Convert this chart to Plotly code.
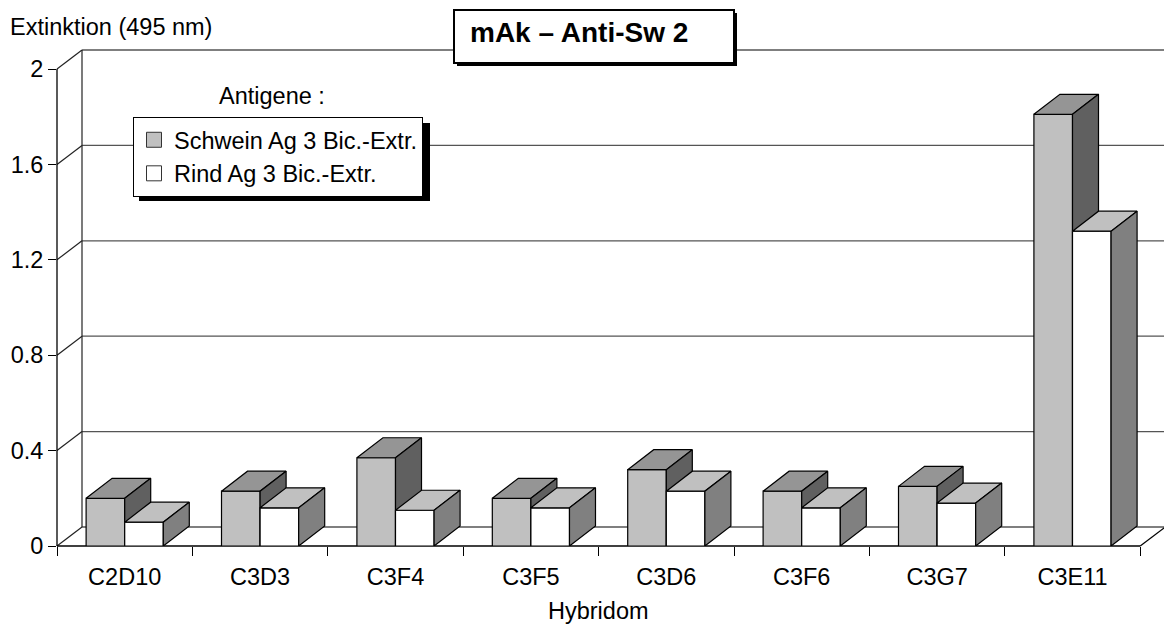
import plotly.graph_objects as go

# ---- data -------------------------------------------------------------
categories = ["C2D10", "C3D3", "C3F4", "C3F5", "C3D6", "C3F6", "C3G7", "C3E11"]
schwein = [0.20, 0.23, 0.37, 0.20, 0.32, 0.23, 0.25, 1.81]
rind = [0.10, 0.16, 0.15, 0.16, 0.23, 0.16, 0.18, 1.32]
series_names = ["Schwein Ag 3 Bic.-Extr.", "Rind Ag 3 Bic.-Extr."]
y_ticks = [0, 0.4, 0.8, 1.2, 1.6, 2]
y_tick_labels = ["0", "0.4", "0.8", "1.2", "1.6", "2"]

# ---- geometry / style -------------------------------------------------
W, H = 1164, 625
M_L, M_R, M_T, M_B = 57, 0, 10, 79
CAT_PX = 135.4          # pixels per category
UNIT_PX = 238.5         # pixels per extinction unit
plot_w = W - M_L - M_R
plot_h = H - M_T - M_B
x_range = [-0.5, -0.5 + plot_w / CAT_PX]
y_range = [0.0, plot_h / UNIT_PX]

BAR_W = 0.285                                   # bar width in category units
BAR_DX, BAR_DY = 26 / CAT_PX, 20 / UNIT_PX      # bar depth (oblique projection)
WALL_DX, WALL_DY = 25 / CAT_PX, 19 / UNIT_PX    # depth of floor / walls
FONT = "Liberation Sans, Arial, Helvetica, sans-serif"
FS = 23.5

face_colors = [
    dict(front="#C0C0C0", top="#959595", side="#606060"),
    dict(front="#FFFFFF", top="#C0C0C0", side="#808080"),
]
legend_colors = ["#C0C0C0", "#FFFFFF"]


def to_paper(x, y):
    """Convert axis units to paper fractions (for decoration shapes)."""
    px = (x - x_range[0]) / (x_range[1] - x_range[0])
    py = (y - y_range[0]) / (y_range[1] - y_range[0])
    return px, py


def px_paper(px, py):
    """Convert canvas pixels to paper fractions (for boxes and labels)."""
    return (px - M_L) / plot_w, (H - M_B - py) / plot_h


def face(xs, ys, color):
    return go.Scatter(
        x=xs + [xs[0]], y=ys + [ys[0]], mode="lines", fill="toself",
        fillcolor=color, line=dict(color="black", width=1.2),
        hoverinfo="skip", showlegend=False,
    )


fig = go.Figure()

# ---- 3D columns: front, top and side faces --------------------------------
for i in range(len(categories)):
    for s, vals in enumerate([schwein, rind]):
        v = vals[i]
        x0 = i - BAR_W + s * BAR_W
        x1 = x0 + BAR_W
        c = face_colors[s]
        fig.add_trace(face([x0, x1, x1, x0], [0, 0, v, v], c["front"]))
        fig.add_trace(face([x0, x1, x1 + BAR_DX, x0 + BAR_DX],
                           [v, v, v + BAR_DY, v + BAR_DY], c["top"]))
        fig.add_trace(face([x1, x1 + BAR_DX, x1 + BAR_DX, x1],
                           [0, BAR_DY, v + BAR_DY, v], c["side"]))

# legend carriers
for name, col in zip(series_names, legend_colors):
    fig.add_trace(go.Scatter(
        x=[None], y=[None], mode="markers", name=name,
        marker=dict(symbol="square", size=15, color=col,
                    line=dict(color="#333333", width=1)),
    ))

# ---- walls, floor and axis lines --------------------------------------
shapes = []


def seg(xa, ya, xb, yb, color="#000000", width=1.2, layer="below"):
    pa = to_paper(xa, ya)
    pb = to_paper(xb, yb)
    shapes.append(dict(type="line", xref="paper", yref="paper",
                       x0=pa[0], y0=pa[1], x1=pb[0], y1=pb[1],
                       line=dict(color=color, width=width), layer=layer))


x_left, x_right = -0.5, len(categories) - 0.5
for v in y_ticks:
    col = "#000000" if v in (0, y_ticks[-1]) else "#555555"
    # back wall gridline
    seg(x_left + WALL_DX, v + WALL_DY, x_right + WALL_DX, v + WALL_DY, col)
    # side wall gridline
    seg(x_left, v, x_left + WALL_DX, v + WALL_DY, "#222222")
# back wall left edge
seg(x_left + WALL_DX, WALL_DY, x_left + WALL_DX, y_ticks[-1] + WALL_DY, "#222222")
# front value axis
seg(x_left, 0, x_left, y_ticks[-1], "#000000", 1.3)
# floor front edge and right edge
seg(x_left, 0, x_right, 0, "#000000", 1.3)
seg(x_right, 0, x_right + WALL_DX, WALL_DY, "#000000", 1.2)


def rect(px0, py0, px1, py1, fill, line_w=0, line_c="black"):
    a = px_paper(px0, py0)
    b = px_paper(px1, py1)
    shapes.append(dict(type="rect", xref="paper", yref="paper",
                       x0=a[0], y0=a[1], x1=b[0], y1=b[1],
                       fillcolor=fill, layer="above",
                       line=dict(width=line_w, color=line_c)))


# title box with shadow
rect(457, 13, 737, 66, "black")
rect(454, 10, 734, 63, "white", 2)
# legend shadow (legend box is drawn on top of it)
rect(139, 123, 430, 201, "black")

fig.update_layout(shapes=shapes)

# ---- annotations -------------------------------------------------------
ann = []
tx, ty = px_paper(468, 33)
ann.append(dict(text="<b>mAk – Anti-Sw 2</b>", x=tx, y=ty, xref="paper", yref="paper",
                xanchor="left", yanchor="middle", showarrow=False,
                font=dict(size=28, family=FONT, color="black")))
ex, ey = px_paper(8, 27)
ann.append(dict(text="Extinktion (495 nm)", x=ex, y=ey, xref="paper", yref="paper",
                xanchor="left", yanchor="middle", showarrow=False,
                font=dict(size=FS, family=FONT, color="black")))
ax_, ay_ = px_paper(272, 96)
ann.append(dict(text="Antigene :", x=ax_, y=ay_, xref="paper", yref="paper",
                xanchor="center", yanchor="middle", showarrow=False,
                font=dict(size=FS, family=FONT, color="black")))
hx, hy = px_paper(0, 611)
ann.append(dict(text="Hybridom", x=(len(categories) - 1) / 2, y=hy, xref="x", yref="paper",
                xanchor="center", yanchor="middle", showarrow=False,
                font=dict(size=FS, family=FONT, color="black")))
fig.update_layout(annotations=ann)

lx, ly = px_paper(133, 117)
fig.update_layout(
    width=W, height=H,
    margin=dict(l=M_L, r=M_R, t=M_T, b=M_B, pad=0),
    paper_bgcolor="white", plot_bgcolor="white",
    hovermode=False,
    font=dict(family=FONT, size=FS, color="black"),
    xaxis=dict(
        range=x_range, showgrid=False, zeroline=False, showline=False,
        tickmode="array", tickvals=list(range(len(categories))), ticktext=categories,
        ticks="outside", ticklen=10, tickcolor="rgba(0,0,0,0)",
        tickfont=dict(size=FS, family=FONT, color="black"),
        minor=dict(tickmode="array", tickvals=[i - 0.5 for i in range(len(categories) + 1)],
                   ticks="outside", ticklen=9, tickcolor="black", tickwidth=1, showgrid=False),
        fixedrange=True,
    ),
    yaxis=dict(
        range=y_range, showgrid=False, zeroline=False, showline=False,
        tickmode="array", tickvals=y_ticks, ticktext=y_tick_labels,
        ticks="outside", ticklen=8, tickcolor="black", tickwidth=1,
        tickfont=dict(size=FS, family=FONT, color="black"),
        fixedrange=True,
    ),
    showlegend=True,
    legend=dict(
        x=lx, y=ly, xanchor="left", yanchor="top",
        bgcolor="white", bordercolor="black", borderwidth=1,
        font=dict(size=FS, family=FONT, color="black"),
        itemwidth=30, tracegroupgap=0,
    ),
)

fig.write_html("out.html")
